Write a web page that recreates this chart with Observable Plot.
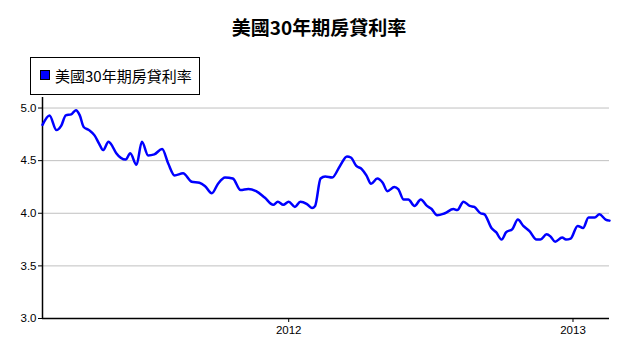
<!DOCTYPE html>
<html><head><meta charset="utf-8">
<script src="https://cdn.jsdelivr.net/npm/d3@7"></script>
<script src="https://cdn.jsdelivr.net/npm/@observablehq/plot@0.6"></script>
<style>
body{margin:0;background:#fff;}
#wrap{position:relative;width:630px;height:342px;overflow:hidden;}
#title{position:absolute;left:0;width:638px;top:15px;text-align:center;font:bold 19px "Noto Sans CJK TC";color:#000;line-height:24px;}
#legend{position:absolute;left:30px;top:57px;width:170px;height:38px;border:1px solid #000;background:#fff;box-sizing:border-box;}
#legend .sw{position:absolute;left:9px;top:12px;width:10px;height:10px;background:#0000ff;border:1px solid #000;box-sizing:border-box;}
#legend .lb{position:absolute;left:24px;top:8px;font:15px "Noto Sans CJK TC";line-height:19px;white-space:nowrap;color:#000;}
#chart{position:absolute;left:0;top:0;}
</style>
</head><body>
<div id="wrap">
<div id="chart"></div>
<div id="title"></div>
<div id="legend"><div class="sw"></div><div class="lb"></div></div>
</div>
<script>
const title = "美國30年期房貸利率";
const seriesName = "美國30年期房貸利率";
const dates = [
"2011-02-18","2011-02-27","2011-03-08","2011-03-14","2011-03-20","2011-03-27","2011-04-02","2011-04-07","2011-04-12","2011-04-19",
"2011-04-26","2011-05-02","2011-05-07","2011-05-14","2011-05-17","2011-05-24","2011-06-05","2011-06-11","2011-06-19","2011-06-26",
"2011-07-04","2011-07-12","2011-07-22","2011-07-30","2011-08-07","2011-08-18","2011-08-29","2011-09-08","2011-09-15","2011-09-24",
"2011-10-02","2011-10-11","2011-10-21","2011-10-31","2011-11-10","2011-11-20","2011-12-01","2011-12-12","2011-12-18","2011-12-25",
"2012-01-01","2012-01-09","2012-01-16","2012-01-24","2012-01-31","2012-02-04","2012-02-11","2012-02-17","2012-02-26","2012-03-07",
"2012-03-16","2012-03-21","2012-03-28","2012-04-04","2012-04-10","2012-04-16","2012-04-24","2012-05-01","2012-05-07","2012-05-16",
"2012-05-21","2012-05-28","2012-06-03","2012-06-11","2012-06-19","2012-06-27","2012-07-03","2012-07-10","2012-07-20","2012-07-31",
"2012-08-05","2012-08-13","2012-08-21","2012-08-27","2012-09-04","2012-09-09","2012-09-18","2012-09-24","2012-10-01","2012-10-07",
"2012-10-15","2012-10-22","2012-10-29","2012-11-06","2012-11-15","2012-11-20","2012-11-28","2012-12-03","2012-12-09","2012-12-18",
"2012-12-23","2012-12-29","2013-01-07","2013-01-14","2013-01-21","2013-01-29","2013-02-04","2013-02-12","2013-02-17"
];
const rates = [
4.84,4.93,4.79,4.83,4.93,4.94,4.98,4.93,4.82,4.79,
4.74,4.66,4.60,4.68,4.66,4.57,4.51,4.57,4.46,4.68,
4.55,4.56,4.61,4.47,4.36,4.38,4.30,4.29,4.26,4.19,
4.28,4.34,4.33,4.22,4.23,4.21,4.15,4.08,4.11,4.08,
4.11,4.06,4.11,4.09,4.05,4.07,4.33,4.35,4.34,4.45,
4.54,4.53,4.45,4.42,4.36,4.28,4.33,4.29,4.21,4.25,
4.23,4.13,4.13,4.07,4.13,4.07,4.04,3.98,4.00,4.04,
4.03,4.11,4.07,4.06,4.00,3.99,3.86,3.82,3.75,3.82,
3.85,3.94,3.88,3.83,3.75,3.75,3.80,3.78,3.73,3.77,
3.75,3.76,3.88,3.86,3.96,3.96,3.99,3.94,3.93
];
const yTicks = [3.0, 3.5, 4.0, 4.5, 5.0];
const xTickLabels = ["2012", "2013"];

document.getElementById("title").textContent = title;
document.querySelector("#legend .lb").textContent = seriesName;

const data = dates.map((d, i) => ({date: new Date(d + "T00:00:00Z"), rate: rates[i]}));
const xTicks = xTickLabels.map(y => new Date(y + "-01-01T00:00:00Z"));

const chart = Plot.plot({
  width: 630,
  height: 342,
  marginLeft: 42,
  marginRight: 21,
  marginTop: 97,
  marginBottom: 24,
  style: {fontFamily: "'Liberation Sans', Arial, sans-serif", fontSize: "11px", color: "#000", background: "#fff"},
  x: {type: "utc", domain: [data[0].date, data[data.length - 1].date], label: null},
  y: {domain: [3.0, 5.1], label: null},
  marks: [
    Plot.gridY(yTicks.filter(t => t > 3), {stroke: "#c0c0c0", strokeOpacity: 1, strokeWidth: 1}),
    Plot.axisY({ticks: yTicks, tickFormat: d3.format(".1f"), tickSize: 4, tickPadding: 2, label: null, fontSize: 11.5}),
    Plot.axisX({ticks: xTicks, tickFormat: d3.utcFormat("%Y"), tickSize: 4, tickPadding: 3, label: null, fontSize: 11.5}),
    Plot.ruleX([data[0].date], {stroke: "#000", strokeWidth: 1.5}),
    Plot.ruleY([3.0], {stroke: "#000", strokeWidth: 1.5}),
    Plot.line(data, {x: "date", y: "rate", stroke: "#0000ff", strokeWidth: 2.5, curve: "monotone-x"})
  ]
});
document.getElementById("chart").appendChild(chart);
</script>
</body></html>
